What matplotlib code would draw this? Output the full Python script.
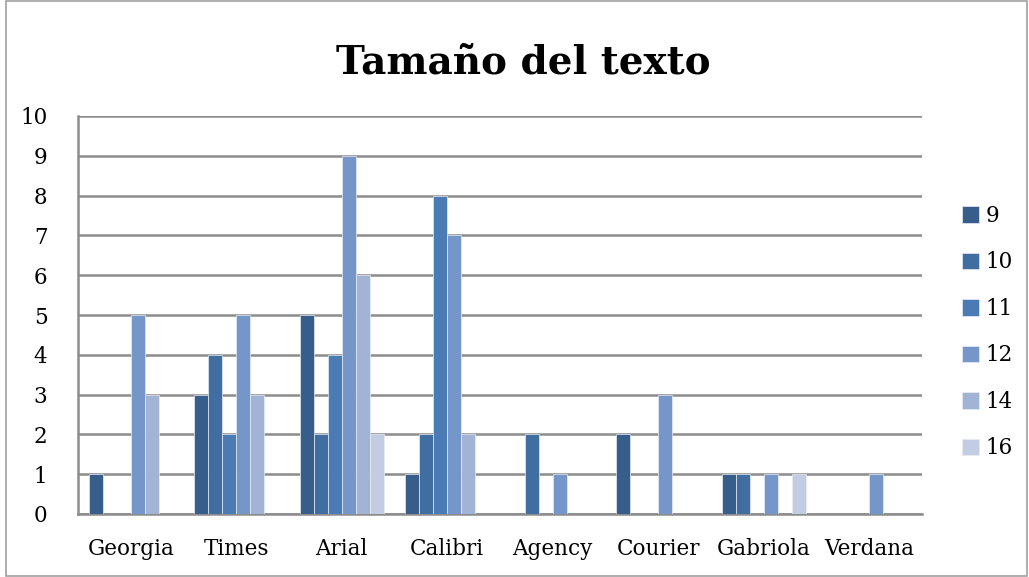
import matplotlib.pyplot as plt
import numpy as np
from matplotlib.patches import Rectangle

fuentes = ['Georgia', 'Times', 'Arial', 'Calibri', 'Agency', 'Courier', 'Gabriola', 'Verdana']
tamanos = ['9', '10', '11', '12', '14', '16']
t9 = [1, 3, 5, 1, 0, 2, 1, 0]
t10 = [0, 4, 2, 2, 2, 0, 1, 0]
t11 = [0, 2, 4, 8, 0, 0, 0, 0]
t12 = [5, 5, 9, 7, 1, 3, 1, 1]
t14 = [3, 3, 6, 2, 0, 0, 0, 0]
t16 = [0, 0, 2, 0, 0, 0, 1, 0]
series = [t9, t10, t11, t12, t14, t16]
colores = ['#375d8b', '#416ea0', '#4a7bb5', '#7596c8', '#a2b4d6', '#c2cde3']

plt.rcParams['font.family'] = ['DejaVu Serif']

fig = plt.figure(figsize=(10.29, 5.77), dpi=100)
ax = fig.add_axes([78/1029, 1 - 514/577, (922-78)/1029, (514-116)/577])

x = np.arange(len(fuentes))
w = 0.133
for i, (vals, c, lab) in enumerate(zip(series, colores, tamanos)):
    ax.bar(x + (i - 2.5) * w, vals, w, color=c, edgecolor='#e8ecf4', linewidth=0.5,
           label=lab, zorder=3)

ax.set_xlim(-0.5, len(fuentes) - 0.5)
ax.set_ylim(0, 10)
ax.set_yticks(range(0, 11))
ax.set_xticks(x)
ax.set_xticklabels(fuentes)
ax.tick_params(length=0, labelsize=15.5, colors='black')
ax.tick_params(axis='x', pad=17)
ax.tick_params(axis='y', pad=22)
ax.grid(axis='y', color='#8c8c8c', linewidth=1.8, zorder=0)
for s in ['top', 'right']:
    ax.spines[s].set_visible(False)
for s in ['left', 'bottom']:
    ax.spines[s].set_color('#8c8c8c')
    ax.spines[s].set_linewidth(1.8)

fig.text(0.509, 1 - 73/577, 'Tamaño del texto', ha='center', va='baseline',
         fontsize=28, fontweight='bold')

leg = ax.legend(loc='center left', bbox_to_anchor=(1.024, 0.457), frameon=False,
                fontsize=15.5, handlelength=0.8, handleheight=0.8,
                handletextpad=0.3, labelspacing=1.14)

fig.patches.append(Rectangle((6/1029, 0.002), 1021/1029, 0.996, transform=fig.transFigure,
                             fill=False, edgecolor='#a0a0a0', linewidth=1.2))

fig.savefig('out.png', dpi=100)
